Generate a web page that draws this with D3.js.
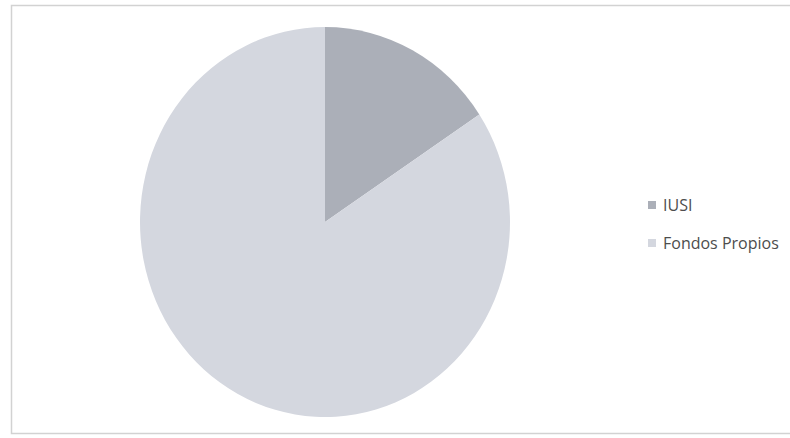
<!DOCTYPE html>
<html>
<head>
<meta charset="utf-8">
<script src="https://cdn.jsdelivr.net/npm/d3@7"></script>
<style>
  body { margin: 0; background: #fff; }
  svg { display: block; }
</style>
</head>
<body>
<div id="chart"></div>
<script>
// data
const categories = ["IUSI", "Fondos Propios"];
const values = [15.7, 84.3];
const colors = ["#abafb8", "#d4d7df"];

const width = 790, height = 438;
const cx = 325, cy = 222;
const rx = 185, ry = 195; // the scan is slightly squashed horizontally

let svg = d3.select("#chart").append("svg")
  .attr("width", width)
  .attr("height", height);

// chart area frame (only partly visible in the scan)
svg.append("path")
  .attr("d", "M790,5.5 H11.5 V433.5 H790")
  .attr("fill", "none")
  .attr("stroke", "#d2d2d2")
  .attr("stroke-width", 1.5);

let pie = d3.pie().sort(null).value((d) => d.value);
let arc = d3.arc().innerRadius(0).outerRadius(ry);

let data = categories.map((c, i) => ({ name: c, value: values[i], color: colors[i] }));

let g = svg.append("g")
  .attr("transform", "translate(" + cx + "," + cy + ") scale(" + (rx / ry) + ",1)");

g.selectAll("path")
  .data(pie(data))
  .enter()
  .append("path")
  .attr("d", arc)
  .attr("fill", (d) => d.data.color);

// legend
let legend = svg.append("g").attr("transform", "translate(648,0)");
let legend_ys = [205, 243];

let items = legend.selectAll("g")
  .data(data)
  .enter()
  .append("g")
  .attr("transform", (d, i) => "translate(0," + legend_ys[i] + ")");

items.append("rect")
  .attr("x", 0)
  .attr("y", -4)
  .attr("width", 8)
  .attr("height", 8)
  .attr("fill", (d) => d.color);

items.append("text")
  .attr("x", 15)
  .attr("y", 0)
  .attr("dy", "0.35em")
  .attr("font-family", "'Open Sans', sans-serif")
  .attr("font-size", 16)
  .attr("fill", "#4d4d4d")
  .text((d) => d.name);
</script>
</body>
</html>
